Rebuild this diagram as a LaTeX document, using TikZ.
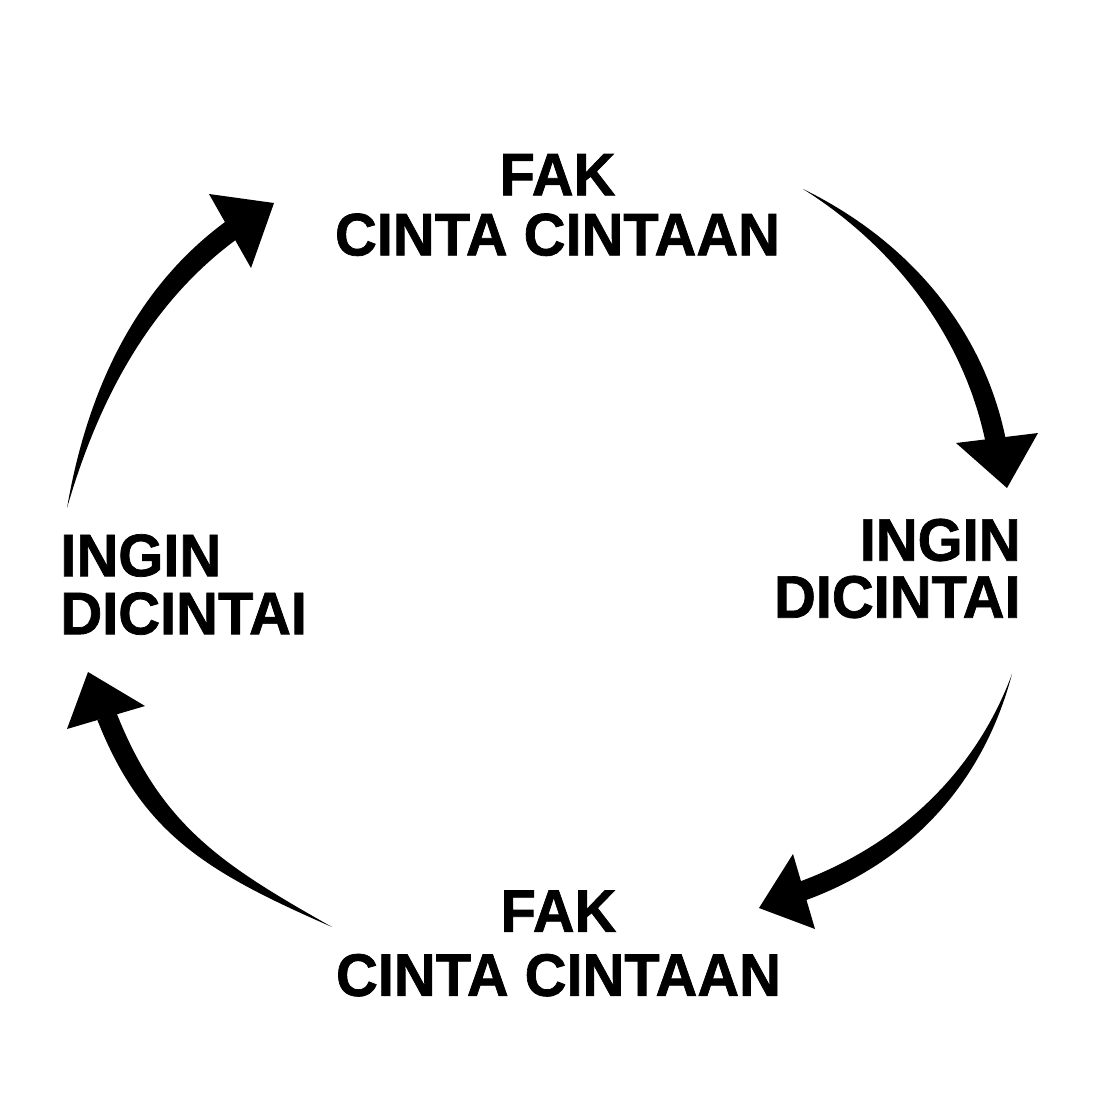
\documentclass[tikz,border=0pt]{standalone}
\usepackage{fontspec}
\newfontfamily\labfont[FakeStretch=0.965,FakeBold=1.2]{Liberation Sans}
\usetikzlibrary{calc}
\newcommand\tarrow[2]{%
  \coordinate (#1e) at ($(#1b)!1.5pt!(#1p)$);
  \coordinate (#1nl) at ($(#1e)!#2!90:(#1p)$);
  \coordinate (#1nr) at ($(#1e)!#2!-90:(#1p)$);
  \fill[arrowfill] (#1t) .. controls ($(#1c)+0.85*(#1nl)-0.85*(#1e)$) and ($(#1d)+1.0*(#1nl)-1.0*(#1e)$) .. (#1nl)
     -- (#1nr) .. controls ($(#1d)+1.0*(#1nr)-1.0*(#1e)$) and ($(#1c)+0.85*(#1nr)-0.85*(#1e)$) .. (#1t) -- cycle;
  \fill[arrowfill] (#1l) -- (#1p) -- (#1r) -- cycle;
}
\begin{document}
\begin{tikzpicture}[x=0.5pt,y=-0.5pt,
  lbl/.style={font=\labfont\bfseries\fontsize{30pt}{#1}\selectfont, inner sep=0pt, text=black},
  arrowfill/.style={fill=black}]
\fill[white] (0,0) rectangle (1108,1108);
\useasboundingbox (0,0) rectangle (1108,1108);

\node[lbl=30pt, align=center] (topl) at (557.5,205) {FAK\\CINTA CINTAAN};
\node[lbl=28.5pt, align=right, anchor=east] (rightl) at (1021,568.5) {INGIN\\DICINTAI};
\node[lbl=29pt, align=left, anchor=west] (leftl) at (60,584.5) {INGIN\\DICINTAI};
\node[lbl=32pt, align=center] (botl) at (558.5,943.5) {FAK\\CINTA CINTAAN};

% arrow 1: left -> top
\coordinate (at) at (67,508);
\coordinate (ac) at (92,398);
\coordinate (ad) at (141,296);
\coordinate (ab) at (230,231);
\coordinate (ap) at (274,203);
\coordinate (al) at (209,194);
\coordinate (ar) at (251,268);
\tarrow{a}{5.2pt}

% arrow 2: top -> right
\coordinate (bt) at (803,189);
\coordinate (bc) at (899,242);
\coordinate (bd) at (973,330);
\coordinate (bb) at (995,438);
\coordinate (bp) at (1007,488);
\coordinate (bl) at (956,443);
\coordinate (br) at (1038,433);
\tarrow{b}{5.1pt}

% arrow 3: right -> bottom
\coordinate (ct) at (1012,674);
\coordinate (cc) at (979,779);
\coordinate (cd) at (903.6,853.9);
\coordinate (cb) at (805,890);
\coordinate (cp) at (759,908);
\coordinate (cl) at (793,854);
\coordinate (cr) at (815,929);
\tarrow{c}{4.9pt}

% arrow 4: bottom -> left
\coordinate (dt) at (332,927);
\coordinate (dc) at (215.5,869);
\coordinate (dd) at (152,830.6);
\coordinate (db) at (108,719);
\coordinate (dp) at (88,672);
\coordinate (dl) at (67,729);
\coordinate (dr) at (145,706);
\tarrow{d}{5.1pt}
\end{tikzpicture}
\end{document}
